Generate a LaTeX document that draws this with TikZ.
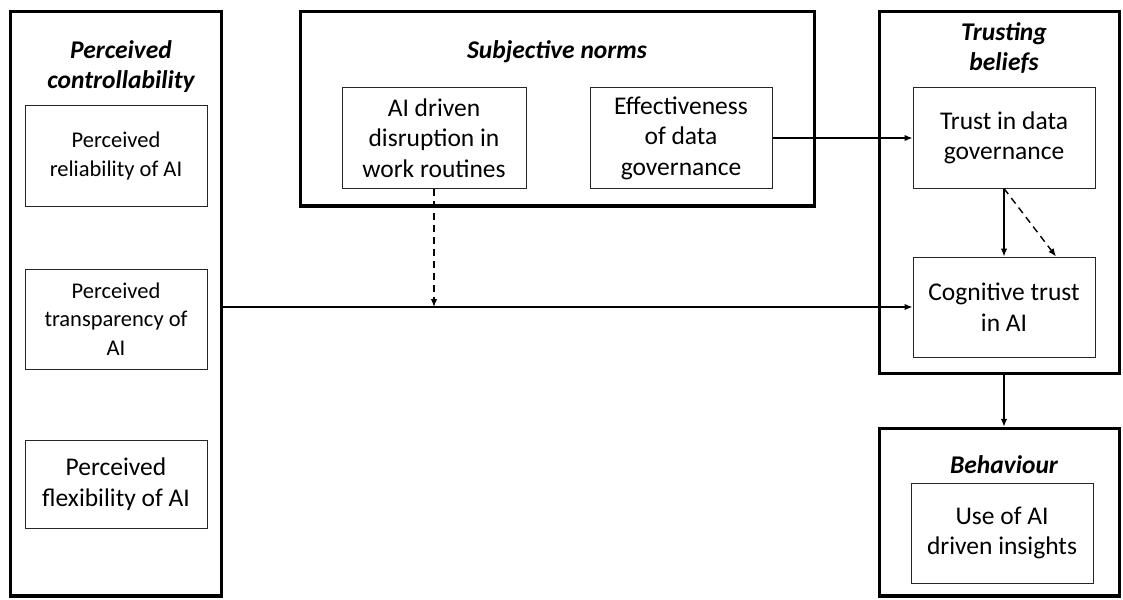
\documentclass[tikz,border=0pt]{standalone}
\usepackage{fontspec}
\setmainfont{Carlito}
\usetikzlibrary{arrows.meta}
\begin{document}
\begin{tikzpicture}[x=1pt,y=-1pt,
  outerbox/.style={draw=black,line width=3.5pt,inner sep=0pt,fill=none},
  innerbox/.style={draw=black!85,line width=1pt,inner sep=0pt,align=center,
    minimum width=182pt,font=\fontsize{25.5}{30.5}\selectfont},
  smalltext/.style={font=\fontsize{22.5}{28.5}\selectfont},
  grouptitle/.style={align=center,inner sep=0pt,font=\fontsize{25.5}{30}\selectfont\bfseries\itshape},
  conn/.style={line width=1.4pt,-{Latex[length=8pt,width=6.5pt]}},
  dconn/.style={conn,dash pattern=on 7pt off 5pt}]
\useasboundingbox (0,0) rectangle (1123,599);
% outer group boxes
\node[outerbox,minimum width=211pt,minimum height=584.5pt] (lc) at (116,303.75) {};
\node[outerbox,minimum width=514pt,minimum height=194.5pt] (sn) at (557.5,108.75) {};
\node[outerbox,minimum width=240pt,minimum height=362pt] (tb) at (999.5,192.5) {};
\node[outerbox,minimum width=240pt,minimum height=167.5pt] (bh) at (999.5,512.25) {};
% titles
\node[grouptitle] (lct) at (121,67) {Perceived\\controllability};
\node[grouptitle] (snt) at (557,52) {Subjective norms};
\node[grouptitle] (tbt) at (1004,48) {Trusting\\beliefs};
\node[grouptitle] (bht) at (1004,465) {Behaviour};
% inner boxes
\node[innerbox,smalltext,minimum height=100pt] (rel) at (116,156) {Perceived\\reliability of AI};
\node[innerbox,smalltext,minimum height=100pt] (tra) at (116,319) {Perceived\\transparency of\\AI};
\node[innerbox,minimum height=88pt] (flex) at (116,484) {Perceived\\flexibility of AI};
\node[innerbox,minimum width=184pt,minimum height=100pt] (ai) at (434,138) {AI driven\\disruption in\\work routines};
\node[innerbox,minimum height=100pt] (eff) at (681,138) {Effectiveness\\of data\\governance};
\node[innerbox,minimum height=100pt] (tdg) at (1004,138) {Trust in data\\governance};
\node[innerbox,minimum height=100pt] (cog) at (1004,307) {Cognitive trust\\in AI};
\node[innerbox,minimum height=100pt] (use) at (1002,533) {Use of AI\\driven insights};
% connectors
\draw[conn] (eff.east) -- (tdg.west);
\draw[conn] (lc.east |- cog.west) -- (cog.west);
\draw[dconn] (ai.south) -- (ai.south |- cog.west);
\draw[conn] (tdg.south) -- (cog.north);
\draw[dconn] (tdg.south) -- ([xshift=52pt]cog.north);
\draw[conn] (tdg.south |- tb.south) -- (tdg.south |- bh.north);
\end{tikzpicture}
\end{document}
